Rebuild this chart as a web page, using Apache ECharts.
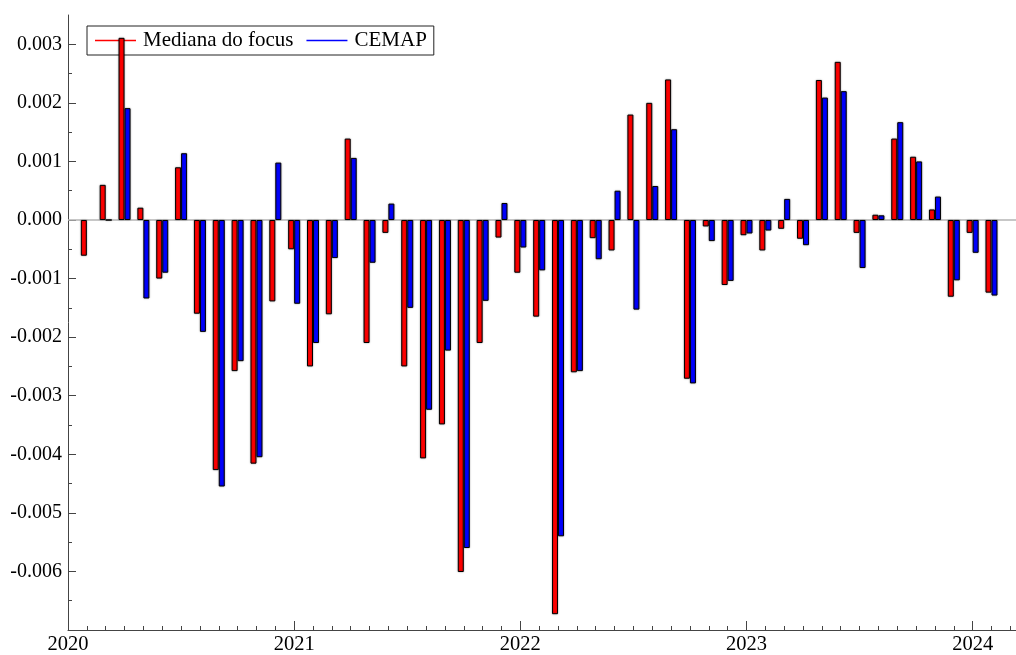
<!DOCTYPE html>
<html>
<head>
    <meta charset="utf-8">
    <title>Mediana do focus x CEMAP</title>
    <script src="https://cdn.jsdelivr.net/npm/echarts@6/dist/echarts.min.js"></script>
    <style>
        html, body { margin: 0; padding: 0; background: #fff; }
        #main { width: 1016px; height: 655px; }
    </style>
</head>
<body>
    <div id="main"></div>

    <script type="text/javascript">
        // monthly values, Feb 2020 .. Feb 2024 (x = months after Jan 2020)
        var mediana = [
            -0.00061, 0.0006, 0.00311, 0.00021, -0.001, 0.0009, -0.0016, -0.00427, -0.00258, -0.00416, -0.00139,
            -0.0005, -0.0025, -0.00161, 0.00139, -0.0021, -0.00022, -0.0025, -0.00407, -0.00349, -0.00601, -0.0021, -0.0003,
            -0.0009, -0.00165, -0.00673, -0.0026, -0.00031, -0.00052, 0.0018, 0.002, 0.0024, -0.00271, -0.00011, -0.00111,
            -0.00026, -0.00052, -0.00015, -0.00032, 0.00239, 0.0027, -0.00022, 0.00009, 0.00139, 0.00108, 0.00018, -0.00131,
            -0.00022, -0.00124
        ];
        var cemap = [
            null, 0, 0.00191, -0.00134, -0.0009, 0.00114, -0.00191, -0.00455, -0.00241, -0.00405, 0.00098,
            -0.00143, -0.0021, -0.00065, 0.00106, -0.00073, 0.00028, -0.0015, -0.00324, -0.00223, -0.0056, -0.00138, 0.00029,
            -0.00047, -0.00086, -0.0054, -0.00258, -0.00067, 0.0005, -0.00153, 0.00058, 0.00155, -0.00279, -0.00036, -0.00104,
            -0.00023, -0.00018, 0.00036, -0.00043, 0.00209, 0.0022, -0.00082, 0.00008, 0.00167, 0.001, 0.0004, -0.00103,
            -0.00056, -0.00129
        ];
        var firstMonth = 1;   // Feb 2020
        var yearTicks = [0, 12, 24, 36, 48];
        var yearLabels = ['2020', '2021', '2022', '2023', '2024'];
        var monthTicks = [];
        for (var i = 0; i <= 50; i++) monthTicks.push(i);
        var yTicks = [-0.007, -0.006, -0.005, -0.004, -0.003, -0.002, -0.001, 0, 0.001, 0.002, 0.003];
        var yLabels = [-0.006, -0.005, -0.004, -0.003, -0.002, -0.001, 0, 0.001, 0.002, 0.003];
        var yMinorTicks = [-0.0065, -0.0055, -0.0045, -0.0035, -0.0025, -0.0015, -0.0005, 0.0005, 0.0015, 0.0025];

        function pairs(arr) {
            return arr.map(function (v, i) { return [firstMonth + i, v]; });
        }

        var font = 'Liberation Serif';
        var axisColor = '#444';
        var myChart = echarts.init(document.getElementById('main'));

        var barItem = function (c) {
            return {
                color: c,
                borderColor: '#000',
                borderWidth: 1,
                shadowColor: 'rgba(0,0,0,0.35)',
                shadowBlur: 2
            };
        };

        myChart.setOption({
            animation: false,
            textStyle: { fontFamily: font },
            grid: { left: 68, right: 0, top: 15, bottom: 21 },
            legend: {
                left: 87,
                top: 26,
                orient: 'horizontal',
                icon: 'rect',
                itemWidth: 41,
                itemHeight: 1.5,
                itemGap: 13,
                padding: [4, 7, 4, 8],
                borderColor: '#222',
                borderWidth: 1,
                itemStyle: { borderWidth: 0, shadowBlur: 0 },
                textStyle: { fontFamily: font, fontSize: 21, color: '#000', padding: [0, 0, 0, 2] },
                data: ['Mediana do focus', 'CEMAP']
            },
            xAxis: [{
                type: 'value',
                min: 0,
                max: 50.3,
                axisLine: { onZero: false, lineStyle: { color: axisColor, width: 1 } },
                axisTick: { inside: true, length: 4, customValues: monthTicks, lineStyle: { color: axisColor } },
                axisLabel: {
                    customValues: yearTicks,
                    margin: 4,
                    color: '#000',
                    fontFamily: font,
                    fontSize: 20.5,
                    formatter: function (v) { return yearLabels[yearTicks.indexOf(Math.round(v))] || ''; }
                },
                splitLine: { show: false }
            }, {
                type: 'value',
                min: 0,
                max: 50.3,
                position: 'bottom',
                axisLine: { show: false, onZero: false },
                axisTick: { inside: true, length: 9, customValues: yearTicks, lineStyle: { color: axisColor } },
                axisLabel: { show: false },
                splitLine: { show: false }
            }],
            yAxis: [{
                type: 'value',
                min: -0.007,
                max: 0.0035,
                axisLine: { show: true, onZero: false, lineStyle: { color: axisColor, width: 1 } },
                axisTick: { show: true, inside: true, length: 8, customValues: yTicks, lineStyle: { color: axisColor } },
                axisLabel: {
                    customValues: yLabels,
                    margin: 6,
                    color: '#000',
                    fontFamily: font,
                    fontSize: 20,
                    formatter: function (v) { return v.toFixed(3); }
                },
                splitLine: { show: false }
            }, {
                type: 'value',
                min: -0.007,
                max: 0.0035,
                position: 'left',
                axisLine: { show: false, onZero: false },
                axisTick: { show: true, inside: true, length: 4, customValues: yMinorTicks, lineStyle: { color: axisColor } },
                axisLabel: { show: false },
                splitLine: { show: false }
            }],
            series: [{
                name: 'Mediana do focus',
                type: 'bar',
                xAxisIndex: 0,
                yAxisIndex: 0,
                barWidth: 6,
                barGap: '0%',
                z: 5,
                itemStyle: barItem('#ff0000'),
                data: pairs(mediana),
                markLine: {
                    silent: true,
                    symbol: 'none',
                    label: { show: false },
                    lineStyle: { color: '#b4b4b4', type: 'solid', width: 1.5 },
                    data: [{ yAxis: 0 }]
                }
            }, {
                name: 'CEMAP',
                type: 'bar',
                xAxisIndex: 0,
                yAxisIndex: 0,
                barWidth: 6,
                barGap: '0%',
                z: 5,
                itemStyle: barItem('#0000ff'),
                data: pairs(cemap)
            }]
        });
    </script>
</body>
</html>
